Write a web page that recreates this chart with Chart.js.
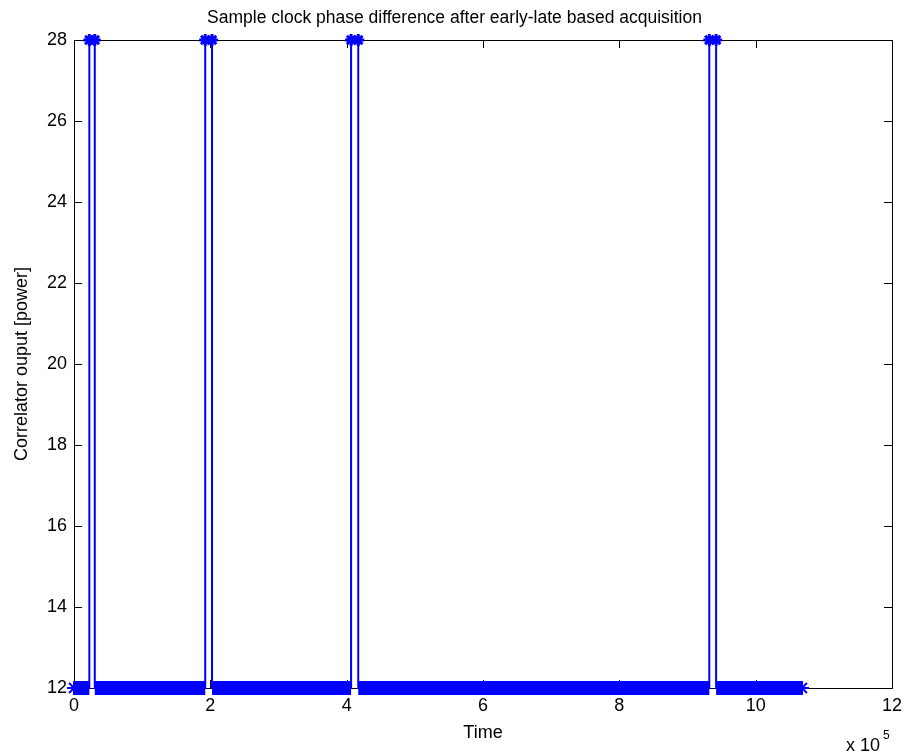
<!DOCTYPE html>
<html>
<head>
<meta charset="utf-8">
<script src="https://cdn.jsdelivr.net/npm/chart.js@4"></script>
<style>
  html, body { margin: 0; padding: 0; background: #fff; }
  #wrap { width: 909px; height: 756px; }
</style>
</head>
<body>
<div id="wrap"><canvas id="myChart" width="909" height="756"></canvas></div>
<script>
// correlator output: baseline power with four short acquisition pulses
const pulseStart = [22500, 192500, 406500, 932000];
const pulseEnd = [30500, 202500, 417000, 942000];
const startTime = 0;
const endTime = 1068000;
const baseLevel = 12;
const peakLevel = 28;

const xTicks = [0, 2, 4, 6, 8, 10, 12];       // x 10^5
const yTicks = [12, 14, 16, 18, 20, 22, 24, 26, 28];

const titleText = 'Sample clock phase difference after early-late based acquisition';
const xLabel = 'Time';
const yLabel = 'Correlator ouput [power]';

const FONT = '"Liberation Sans", Arial, sans-serif';
const BLUE = '#0000ff';

// trace through every edge of the pulses
let trace = [{ x: startTime, y: baseLevel }];
pulseStart.forEach((s, i) => {
    trace.push({ x: s, y: baseLevel });
    trace.push({ x: s, y: peakLevel });
    trace.push({ x: pulseEnd[i], y: peakLevel });
    trace.push({ x: pulseEnd[i], y: baseLevel });
});
trace.push({ x: endTime, y: baseLevel });

// dense markers along the baseline between pulses
let band = [];
let from = startTime;
pulseStart.forEach((s, i) => {
    band.push({ x: from, y: baseLevel }, { x: s, y: baseLevel }, { x: s, y: null });
    from = pulseEnd[i];
});
band.push({ x: from, y: baseLevel }, { x: endTime, y: baseLevel });

const isEnd = c => c.raw && (c.raw.x === startTime || c.raw.x === endTime);

const frame = {
    id: 'frame',
    beforeDatasetsDraw(chart) {
        const { ctx, chartArea: a, scales } = chart;
        ctx.save();
        ctx.strokeStyle = '#000';
        ctx.lineWidth = 1;
        ctx.strokeRect(Math.round(a.left) + 0.5, Math.round(a.top) + 0.5,
            Math.round(a.right - a.left), Math.round(a.bottom - a.top));
        ctx.beginPath();
        scales.x.ticks.forEach(t => {
            const px = Math.round(scales.x.getPixelForValue(t.value)) + 0.5;
            ctx.moveTo(px, a.bottom); ctx.lineTo(px, a.bottom - 8);
            ctx.moveTo(px, a.top); ctx.lineTo(px, a.top + 8);
        });
        scales.y.ticks.forEach(t => {
            const py = Math.round(scales.y.getPixelForValue(t.value)) + 0.5;
            ctx.moveTo(a.left, py); ctx.lineTo(a.left + 8, py);
            ctx.moveTo(a.right, py); ctx.lineTo(a.right - 8, py);
        });
        ctx.stroke();
        ctx.restore();
    },
    afterDraw(chart) {
        const { ctx, chartArea: a, width } = chart;
        ctx.save();
        ctx.fillStyle = '#000';
        ctx.textAlign = 'center';
        ctx.textBaseline = 'alphabetic';
        ctx.font = '17.5px ' + FONT;
        ctx.fillText(titleText, width / 2, 23);
        ctx.font = '18px ' + FONT;
        ctx.fillText(xLabel, (a.left + a.right) / 2, 738);
        ctx.save();
        ctx.translate(27, (a.top + a.bottom) / 2);
        ctx.rotate(-Math.PI / 2);
        ctx.fillText(yLabel, 0, 0);
        ctx.restore();
        // exponent of the x axis
        ctx.textAlign = 'left';
        ctx.fillText('x 10', 846, 751);
        ctx.font = '12px ' + FONT;
        ctx.fillText('5', 883, 739);
        ctx.restore();
    }
};

new Chart(document.getElementById('myChart'), {
    type: 'line',
    data: {
        datasets: [{
            label: 'markers',
            data: band,
            borderColor: BLUE,
            borderWidth: 14,
            borderCapStyle: 'butt',
            pointStyle: 'star',
            pointRadius: c => (isEnd(c) ? 7 : 0),
            pointBorderWidth: 2,
            pointBorderColor: BLUE,
            spanGaps: false,
            clip: false
        }, {
            label: 'power',
            data: trace,
            borderColor: BLUE,
            borderWidth: 2,
            pointStyle: 'star',
            pointRadius: c => (c.raw && c.raw.y === peakLevel ? 6 : 0),
            pointBorderWidth: 3,
            pointBorderColor: BLUE,
            pointBackgroundColor: BLUE,
            clip: false
        }]
    },
    options: {
        responsive: false,
        animation: false,
        events: [],
        layout: { padding: { top: 40, right: 14, left: 0, bottom: 0 } },
        plugins: { legend: { display: false }, title: { display: false }, tooltip: { enabled: false } },
        scales: {
            x: {
                type: 'linear',
                min: 0,
                max: 1200000,
                afterBuildTicks: s => { s.ticks = xTicks.map(v => ({ value: v * 1e5 })); },
                ticks: { callback: v => String(v / 1e5), color: '#000', font: { family: FONT, size: 18 }, padding: 7, maxRotation: 0 },
                grid: { display: false, drawTicks: false },
                border: { display: false },
                afterFit: s => { s.height = 68; }
            },
            y: {
                min: 12,
                max: 28,
                afterBuildTicks: s => { s.ticks = yTicks.map(v => ({ value: v })); },
                ticks: { color: '#000', font: { family: FONT, size: 18 }, padding: 7 },
                grid: { display: false, drawTicks: false },
                border: { display: false },
                afterFit: s => { s.width = 74; }
            }
        }
    },
    plugins: [frame]
});
</script>
</body>
</html>
